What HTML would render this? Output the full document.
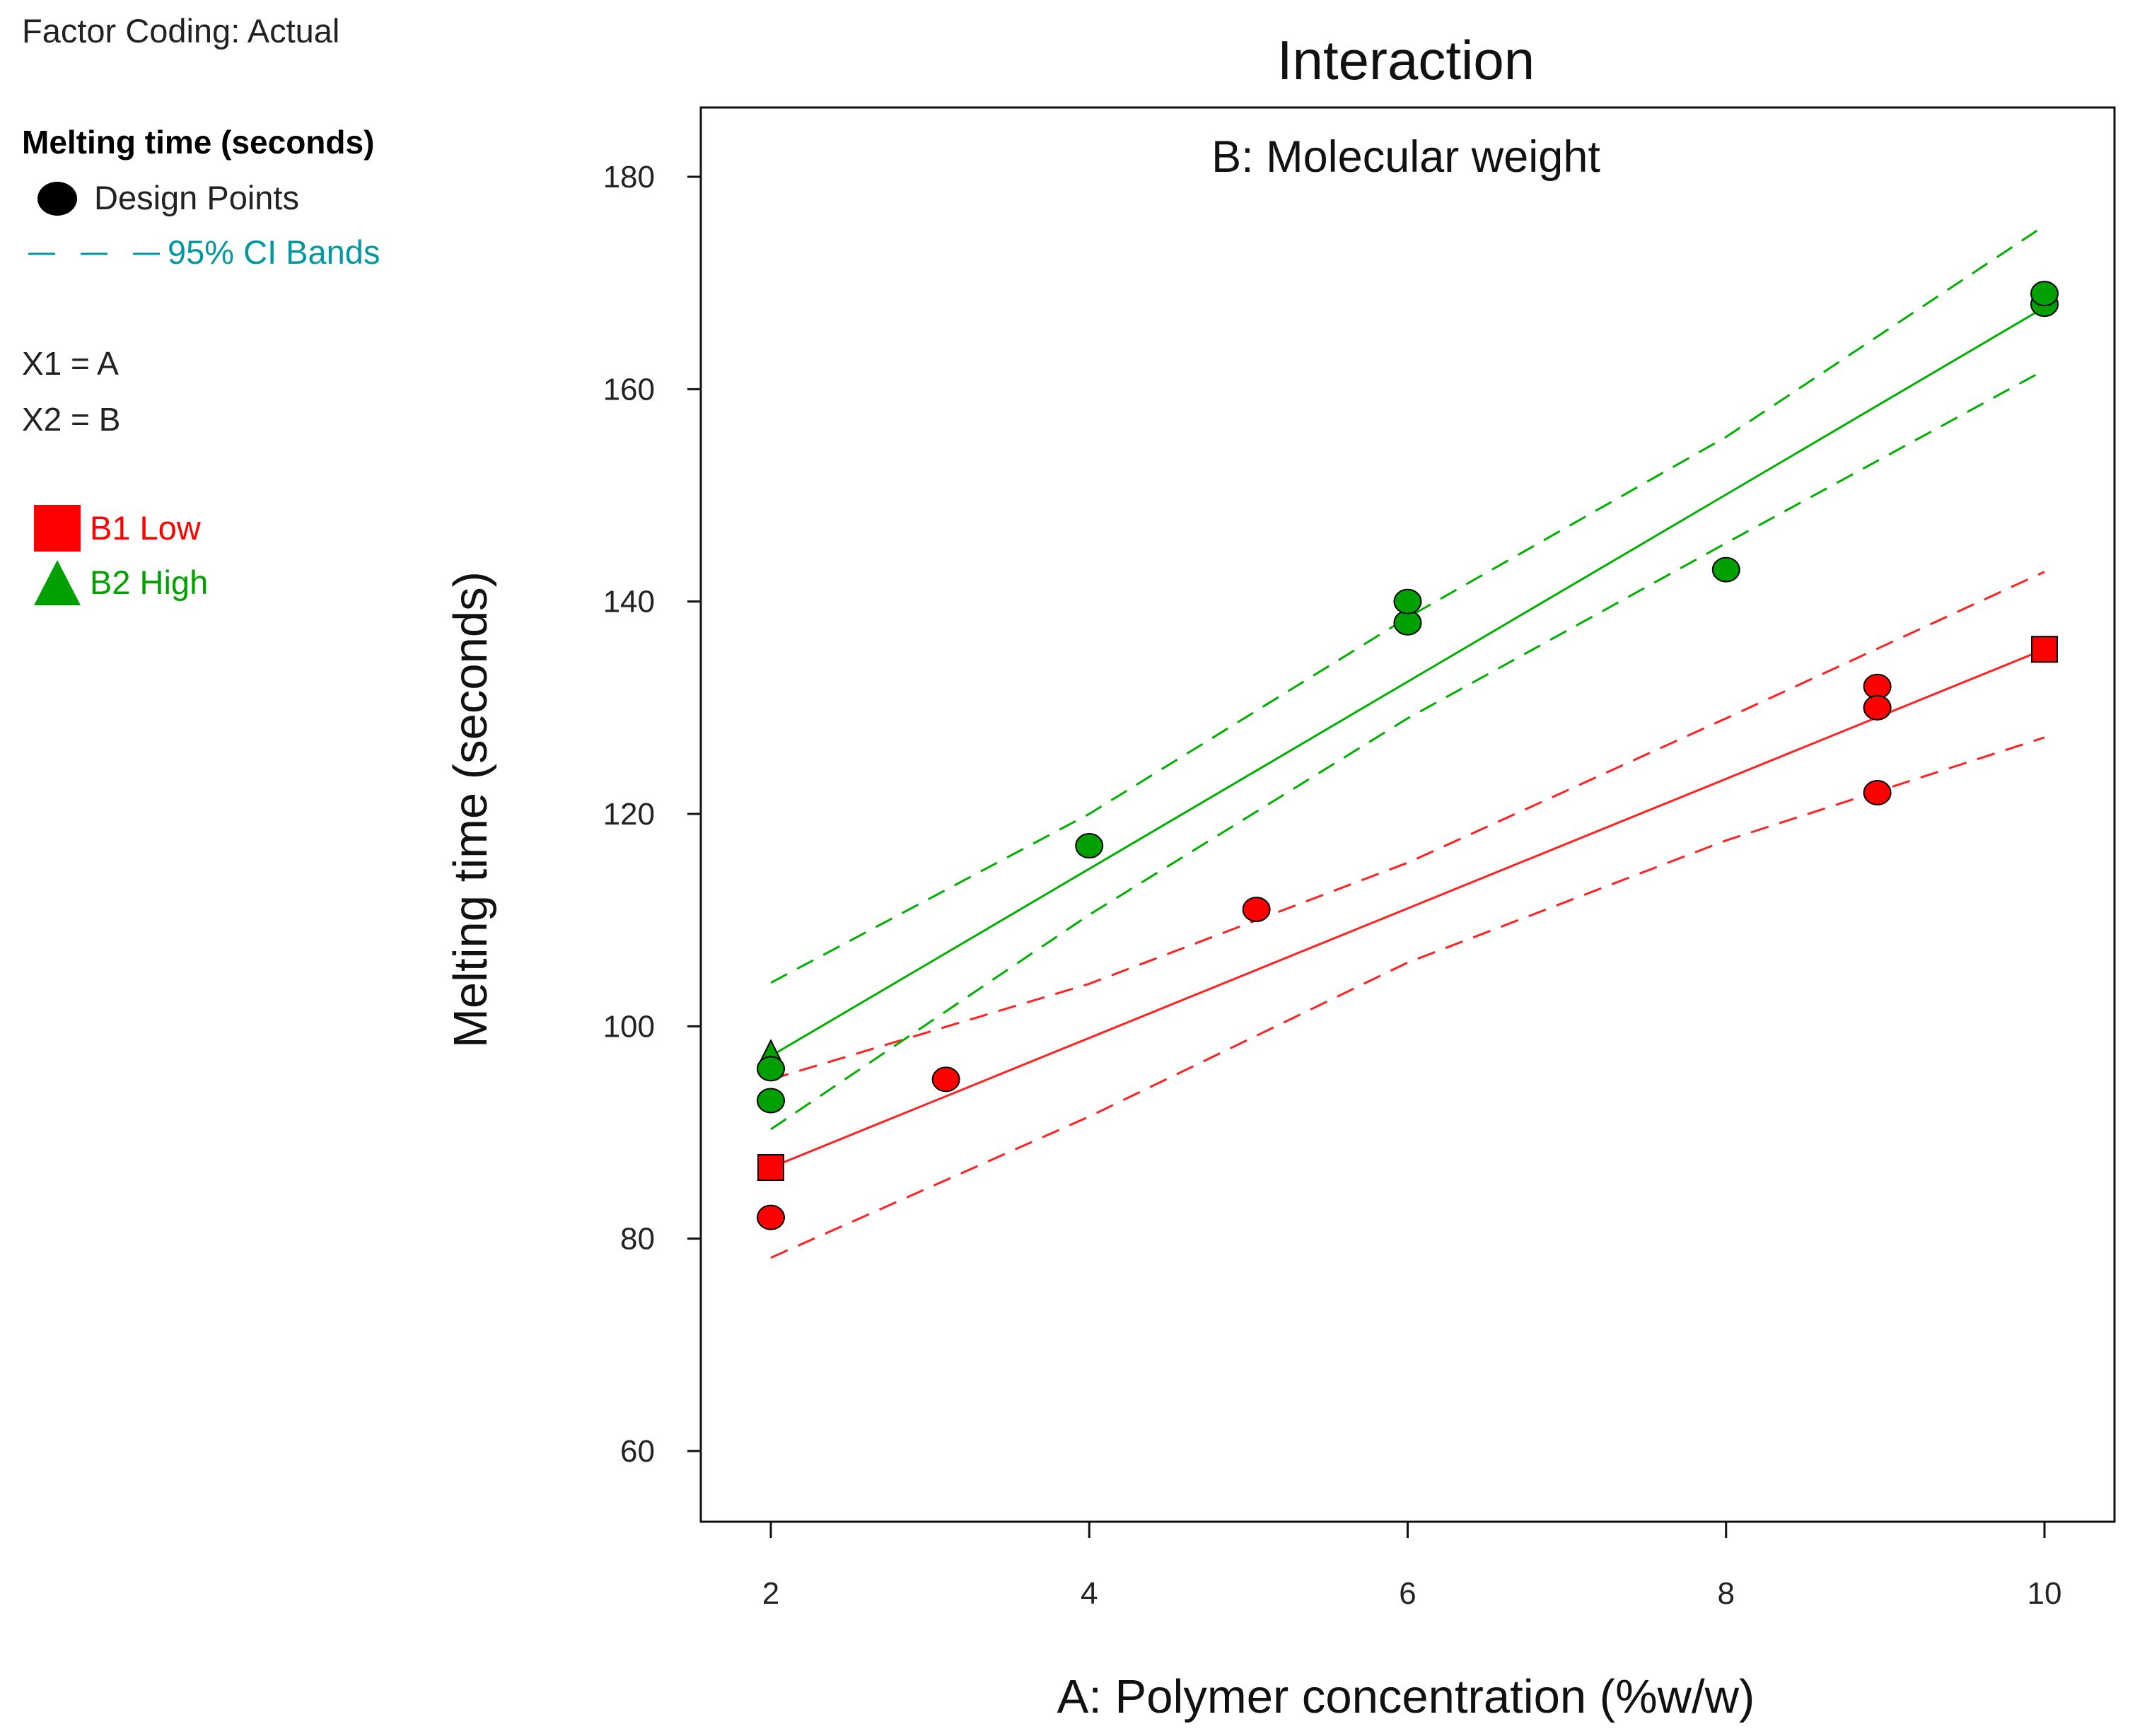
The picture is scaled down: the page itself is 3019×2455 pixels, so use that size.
<!DOCTYPE html>
<html><head><meta charset="utf-8"><style>
html,body{margin:0;padding:0;background:#fff;}
svg{display:block;font-family:"Liberation Sans",sans-serif;}
</style></head><body>
<svg id="chart" width="3019" height="2455" viewBox="0 0 3019 2455" xmlns="http://www.w3.org/2000/svg">
<g>
<text x="31" y="60" font-size="47" fill="#222">Factor Coding: Actual</text>
<text x="31" y="217" font-size="46" font-weight="bold" fill="#000">Melting time (seconds)</text>
<ellipse cx="81" cy="281" rx="28" ry="24" fill="#000"/>
<text x="133" y="296" font-size="47" fill="#222">Design Points</text>
<line x1="40" y1="359" x2="230" y2="359" stroke="#0099a0" stroke-width="3" stroke-dasharray="38,36"/>
<text x="237" y="373" font-size="47" fill="#0099a0">95% CI Bands</text>
<text x="31" y="530" font-size="46" fill="#222">X1 = A</text>
<text x="31" y="609" font-size="46" fill="#222">X2 = B</text>
<rect x="48" y="714" width="66" height="66" fill="#ff0000"/>
<text x="127" y="763" font-size="47" fill="#ff0000">B1 Low</text>
<polygon points="81,792 48,856 114,856" fill="#00a000"/>
<text x="127" y="840" font-size="47" fill="#00a000">B2 High</text>
</g>
<text x="1988" y="112" font-size="78" text-anchor="middle" fill="#111">Interaction</text>
<rect x="991" y="152" width="1999" height="2000" fill="none" stroke="#111" stroke-width="3"/>
<text x="1988" y="243" font-size="63" text-anchor="middle" fill="#111">B: Molecular weight</text>
<text x="1988" y="2422" font-size="67" text-anchor="middle" fill="#111">A: Polymer concentration (%w/w)</text>
<text transform="translate(688,1145) rotate(-90)" font-size="67" text-anchor="middle" fill="#111">Melting time (seconds)</text>
<g id="axes"></g>
<g id="marks"></g>
</svg>
<script>
const xTicks=[2,4,6,8,10];
const yTicks=[60,80,100,120,140,160,180];
const ciX=[2,4,6,8,10];
const redFit=[86.7,135.5];
const redUpper=[95,104,115.4,129,142.8];
const redLower=[78.2,91.5,106,117.5,127.2];
const greenFit=[97.2,167.7];
const greenUpper=[104.1,120,138.5,155.5,175.4];
const greenLower=[90.3,110.5,129,145.5,161.8];
const redPtsX=[2,3.1,5.05,8.95,8.95,8.95];
const redPtsY=[82,95,111,132,130,122];
const greenPtsX=[2,2,4,6,6,8,10,10];
const greenPtsY=[93,96,117,138,140,143,168,169];
const NS="http://www.w3.org/2000/svg";
const X=v=>1090+(v-2)*(2891-1090)/8;
const Y=v=>2052-(v-60)*(2052-250)/120;
const axes=document.getElementById('axes'),marks=document.getElementById('marks');
function mk(tag,attrs,parent){const e=document.createElementNS(NS,tag);for(const k in attrs)e.setAttribute(k,attrs[k]);parent.appendChild(e);return e;}
xTicks.forEach(t=>{
 const l=mk('line',{x1:X(t),x2:X(t),y1:2152,y2:2175,stroke:'#111','stroke-width':3},axes);
 
 
 const s=mk('text',{x:X(t),y:2268,'font-size':44,'text-anchor':'middle',fill:'#222'},axes);s.textContent=t;
 
 
});
yTicks.forEach(t=>{
 const l=mk('line',{x1:972,x2:991,y1:Y(t),y2:Y(t),stroke:'#111','stroke-width':3},axes);
 
 
 const s=mk('text',{x:926,y:Y(t)+15,'font-size':44,'text-anchor':'end',fill:'#222'},axes);s.textContent=t;
 
 
});
function band(vals,color,name){
 const p=mk('polyline',{points:ciX.map((x,i)=>X(x)+','+Y(vals[i])).join(' '),fill:'none',stroke:color,'stroke-width':3,'stroke-dasharray':'26,16'},marks);
 
 
}
function fit(vals,color,name){
 const l=mk('line',{x1:X(2),y1:Y(vals[0]),x2:X(10),y2:Y(vals[1]),stroke:color,'stroke-width':3},marks);
 
 
}
band(redUpper,'#ff2020','red-ci-upper');band(redLower,'#ff2020','red-ci-lower');fit(redFit,'#ff2020','red-fit-line');
band(greenUpper,'#00b000','green-ci-upper');band(greenLower,'#00b000','green-ci-lower');fit(greenFit,'#00b000','green-fit-line');
const tri=mk('polygon',{points:`${X(2)},${Y(greenFit[0])-22} ${X(2)-14},${Y(greenFit[0])+6} ${X(2)+14},${Y(greenFit[0])+6}`,fill:'#00a000',stroke:'#000','stroke-width':2},marks);


redFit.forEach((v,i)=>{
 const r=mk('rect',{x:X(i?10:2)-18,y:Y(v)-18,width:36,height:36,fill:'#ff0000',stroke:'#000','stroke-width':2},marks);
 
 
});
function pts(xs,ys,color,name){
 xs.forEach((x,i)=>{
  const c=mk('ellipse',{cx:X(x),cy:Y(ys[i]),rx:19,ry:17,fill:color,stroke:'#000','stroke-width':2},marks);
  
  
 });
}
pts(redPtsX,redPtsY,'#ff0000','red-design-point');
pts(greenPtsX,greenPtsY,'#00a000','green-design-point');
</script>
</body></html>
